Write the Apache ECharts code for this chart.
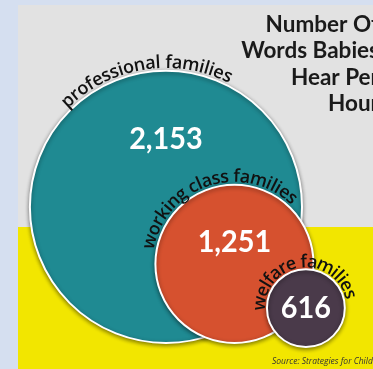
<!DOCTYPE html>
<html><head><meta charset="utf-8">
<script src="https://cdn.jsdelivr.net/npm/echarts@6/dist/echarts.min.js"></script>
<style>html,body{margin:0;padding:0;background:#d5dff0;overflow:hidden}#c{width:373px;height:369px;}</style>
</head><body><div id="c"></div>
<script>
// ---- data ----
const categories = ['professional families', 'working class families', 'welfare families'];
const values = [2153, 1251, 616];
const valueLabels = ['2,153', '1,251', '616'];
const titleLines = ['Number Of', 'Words Babies', 'Hear Per', 'Hour'];
const sourceText = 'Source: Strategies for Children';

// ---- layout (word units: a circle's diameter equals its value) ----
const layoutCenterX = [1313, 1855, 2420];
const layoutBaseY = [206, 206, 174];
const labelArc = [[-45, 27], [-80, 44], [-93, 78]]; // degrees clockwise from top
const labelGap = [8, 8, 7];
const numberLift = [0.5, 0.28, 0.0];
const colors = ['#1f8a92', '#d6512f', '#4a3a4a'];

const mctx = document.createElement('canvas').getContext('2d');
const labelFamily = '"Open Sans", Lato, sans-serif';

function renderItem(params, api) {
  const i = params.dataIndex;
  const v = api.value(2);
  const c = api.coord([api.value(0), api.value(1)]);
  const r = api.size([v, v])[0] / 2;
  const children = [{
    type: 'circle',
    shape: { cx: c[0], cy: c[1], r: r },
    style: { fill: colors[i], stroke: '#ffffff', lineWidth: 2,
      shadowBlur: 4, shadowColor: 'rgba(0,0,0,0.45)', shadowOffsetY: 1.5 }
  }];
  children.push({
    type: 'text', x: c[0], y: c[1] - r * numberLift[i], scaleX: 0.93,
    style: { text: valueLabels[i], fill: '#ffffff', font: 'bold 31px Lato',
      align: 'center', verticalAlign: 'middle' }
  });
  const chars = Array.from(categories[i]);
  mctx.font = '600 100px ' + labelFamily;
  const w100 = chars.map(ch => mctx.measureText(ch).width);
  const tot100 = w100.reduce((a, b) => a + b, 0);
  const R = r + labelGap[i];
  const a0 = labelArc[i][0] * Math.PI / 180, a1 = labelArc[i][1] * Math.PI / 180;
  const fs = (a1 - a0) * R / tot100 * 100;
  const font = '600 ' + fs.toFixed(2) + 'px ' + labelFamily;
  let acc = 0;
  chars.forEach((ch, k) => {
    const w = w100[k] * fs / 100;
    const a = a0 + (acc + w / 2) / R;
    acc += w;
    children.push({
      type: 'text', x: c[0] + R * Math.sin(a), y: c[1] - R * Math.cos(a), rotation: -a,
      style: { text: ch, font: font, fill: '#111111', align: 'center', verticalAlign: 'middle' }
    });
  });
  return { type: 'group', children: children };
}

const chart = echarts.init(document.getElementById('c'), null, { renderer: 'canvas' });
chart.setOption({
  animation: false,
  backgroundColor: '#d5dff0',
  grid: { left: 0, right: 0, top: 0, bottom: 0 },
  xAxis: { type: 'value', min: 0, max: 2951, show: false },
  yAxis: { type: 'value', min: 0, max: 2919, show: false },
  graphic: [
    { type: 'rect', z: -10, shape: { x: 18, y: 5, width: 360, height: 222 }, style: { fill: '#e2e2e2' } },
    { type: 'rect', z: -10, shape: { x: 18, y: 227, width: 360, height: 150 }, style: { fill: '#f2e600' } },
    { type: 'text', x: 379, y: 11, style: { text: titleLines.join('\n'), font: 'bold 22.5px Lato',
        lineHeight: 26.5, fill: '#1a1a1a', align: 'right', verticalAlign: 'top' } },
    { type: 'text', x: 272, y: 362, style: { text: sourceText, font: 'italic 8.5px "Open Sans"',
        fill: '#333333', align: 'left', verticalAlign: 'middle' } }
  ],
  series: [{
    type: 'custom',
    renderItem: renderItem,
    data: values.map((v, i) => [layoutCenterX[i], layoutBaseY[i] + v / 2, v])
  }]
});
</script></body></html>
